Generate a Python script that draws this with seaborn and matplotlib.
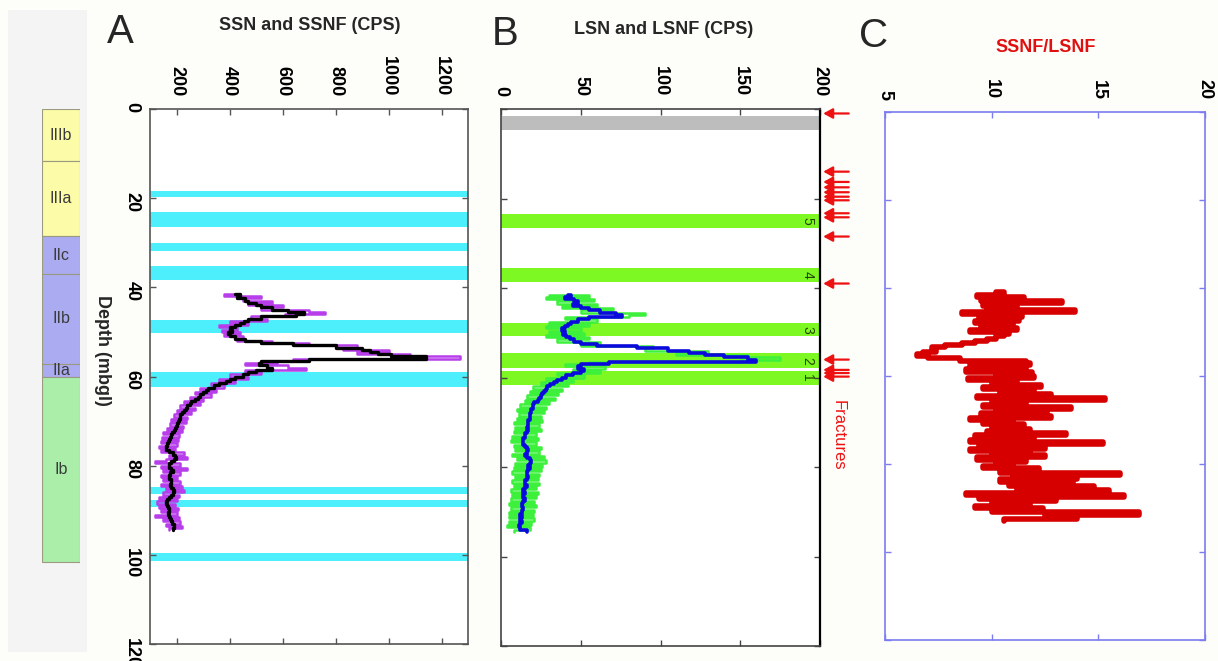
import numpy as np
import seaborn as sns
import matplotlib.pyplot as plt
from matplotlib.patches import Rectangle

# ---- data (depth in m below ground level) ----
log_top = 41.5      # first sample depth of the SSN / LSN logs
ratio_top = 41.0    # first sample depth of the ratio log
step = 0.5

ssn_raw = [440, 380, 520, 450, 560, 470, 600, 520, 700, 760,
           610, 480, 540, 400, 470, 360, 430, 370, 440, 380,
           450, 430, 560, 700, 880, 830, 1000, 880, 1080, 1270,
           640, 580, 460, 620, 690, 460, 520, 400, 470, 360,
           420, 330, 380, 290, 350, 270, 330, 250, 300, 230,
           290, 215, 270, 200, 255, 190, 240, 180, 235, 175,
           225, 165, 220, 150, 210, 145, 205, 140, 200, 135,
           195, 140, 230, 170, 240, 160, 120, 215, 140, 240,
           150, 215, 140, 200, 150, 215, 140, 220, 160, 230,
           150, 210, 135, 200, 125, 195, 135, 205, 140, 200,
           120, 210, 150, 215, 160, 220, 170]
ssnf = [420, 440, 430, 460, 470, 500, 520, 560, 620, 680,
        650, 520, 470, 455, 440, 420, 400, 410, 395, 400,
        420, 460, 520, 640, 800, 900, 930, 960, 1010, 1140,
        700, 520, 510, 540, 560, 500, 470, 450, 420, 400,
        385, 360, 340, 320, 310, 300, 290, 280, 268, 255,
        250, 240, 235, 228, 222, 215, 212, 208, 205, 200,
        198, 195, 190, 182, 178, 175, 172, 168, 165, 162,
        160, 170, 185, 195, 198, 190, 178, 172, 170, 178,
        185, 176, 170, 172, 178, 180, 176, 178, 185, 192,
        188, 178, 170, 165, 160, 163, 168, 172, 170, 168,
        170, 175, 178, 182, 190, 192, 188]
lsn_raw = [30, 55, 28, 58, 35, 60, 38, 70, 50, 90,
           80, 40, 60, 30, 55, 28, 50, 30, 52, 28,
           55, 35, 62, 50, 95, 90, 130, 110, 155, 175,
           150, 55, 40, 65, 45, 62, 35, 52, 28, 45,
           25, 42, 20, 38, 18, 36, 16, 34, 15, 30,
           12, 28, 10, 27, 11, 25, 10, 26, 8, 24,
           9, 25, 8, 22, 7, 23, 6, 22, 8, 25,
           9, 24, 7, 27, 10, 28, 9, 26, 8, 25,
           7, 24, 9, 23, 7, 24, 8, 22, 6, 23,
           7, 22, 6, 21, 5, 22, 6, 21, 5, 20,
           5, 21, 5, 19, 4, 18, 8]
lsnf = [42, 44, 40, 46, 48, 45, 50, 55, 62, 72,
        76, 55, 48, 44, 42, 40, 38, 40, 39, 41,
        43, 46, 50, 60, 85, 105, 118, 128, 140, 155,
        160, 68, 50, 48, 52, 50, 45, 41, 38, 35,
        33, 31, 29, 28, 27, 26, 25, 24, 23, 21,
        20, 20, 19, 19, 18, 18, 18, 17, 17, 17,
        16, 17, 16, 15, 15, 14, 14, 14, 15, 16,
        17, 16, 15, 16, 18, 19, 18, 17, 18, 17,
        16, 16, 17, 16, 15, 15, 16, 15, 14, 15,
        14, 14, 15, 14, 13, 13, 14, 13, 13, 12,
        13, 12, 13, 12, 11, 12, 16]
ssnf_lsnf = [10.2, 10.6, 9.3, 11.5, 9.5, 13.3, 9.6, 11.2, 9.8, 13.9,
             8.6, 11.4, 9.4, 11.3, 9.2, 11.0, 9.5, 11.2, 9.0, 10.8,
             10.6, 10.2, 9.8, 9.2, 8.6, 7.8, 7.2, 7.4, 6.8, 6.5,
             7.0, 8.5, 11.6, 11.8, 9.0, 11.6, 8.8, 11.9, 10.2, 12.0,
             8.9, 11.2, 10.0, 12.3, 9.6, 12.0, 10.4, 12.8, 9.3, 15.3,
             10.0, 11.6, 9.6, 13.7, 10.2, 12.6, 9.5, 12.8, 9.0, 11.0,
             9.6, 11.5, 10.0, 11.8, 9.8, 13.5, 9.2, 12.0, 9.0, 15.2,
             9.4, 12.5, 9.0, 11.8, 10.0, 12.5, 9.3, 11.6, 10.2, 11.0,
             9.6, 12.2, 10.4, 16.0, 11.0, 14.0, 10.4, 13.8, 10.8, 14.8,
             11.2, 15.5, 8.8, 16.2, 9.4, 13.0, 10.0, 11.8, 9.2, 12.4,
             10.0, 16.9, 12.5, 14.0, 10.6]

zone_names = ['IIIb', 'IIIa', 'IIc', 'IIb', 'IIa', 'Ib']
zone_top = [0.0, 11.7, 28.5, 37.0, 57.2, 60.1]
zone_bot = [11.7, 28.5, 37.0, 57.2, 60.1, 101.6]
zone_colors = ['#FBFBA8', '#FBFBA8', '#ABABF2', '#ABABF2', '#ABABF2', '#AAEEAA']

ssn_bands = [(18.4, 19.8), (23.2, 26.4), (30.0, 31.9), (35.2, 38.3), (47.4, 50.2),
             (59.0, 62.3), (84.8, 86.3), (87.7, 89.3), (99.6, 101.4)]
lsn_bands = [(23.5, 26.7), (35.6, 38.6), (47.8, 50.7), (54.5, 57.9), (58.5, 61.7)]
lsn_band_labels = ['5', '4', '3', '2', '1']
casing = (1.5, 4.7)
fractures = [1.0, 14.0, 16.3, 17.5, 18.6, 19.6, 20.4, 23.3, 24.2, 28.5,
             39.0, 56.0, 58.3, 59.0, 59.8]

depth_log = log_top + step * np.arange(len(ssnf))
depth_ratio = ratio_top + step * np.arange(len(ssnf_lsnf))

sns.set_style('ticks')
plt.rcParams['font.family'] = ['Liberation Sans', 'DejaVu Sans']

W, H = 1218, 661
fig = plt.figure(figsize=(W / 100, H / 100), dpi=100, facecolor='#FDFDF9')


def box(x0, y0, x1, y1):
    return [x0 / W, 1 - y1 / H, (x1 - x0) / W, (y1 - y0) / H]


# light panel behind the zonation column
fig.patches.append(Rectangle((8 / W, 1 - 652 / H), 79 / W, 642 / H,
                             transform=fig.transFigure, fc='#F4F4F4', ec='none', zorder=-5))

axZ = fig.add_axes(box(42, 109, 80, 644))
axA = fig.add_axes(box(150, 109, 468, 644))
axB = fig.add_axes(box(501, 109, 820, 646))
axC = fig.add_axes(box(885, 112, 1205, 640))
axZ.set_zorder(3)

# ---- zonation column ----
for name, t, b, c in zip(zone_names, zone_top, zone_bot, zone_colors):
    axZ.barh((t + b) / 2, 1, height=b - t, left=0, color=c, edgecolor='#9A9A80', lw=0.8)
    axZ.text(0.5, (t + b) / 2, name, ha='center', va='center', fontsize=11.5, color='#3A3A3A')
axZ.set_xlim(0, 1)
axZ.set_ylim(120, 0)
axZ.axis('off')


def style_depth_axis(ax, spine_col, show_depth_labels):
    ax.set_ylim(120, 0)
    ax.set_yticks(range(0, 121, 20))
    ax.xaxis.tick_top()
    ax.tick_params(axis='both', direction='in', length=4, width=1, colors=spine_col,
                   labelcolor='black', labelsize=13, pad=9)
    ax.tick_params(axis='x', top=True, bottom=True)
    ax.tick_params(axis='y', left=True, right=True, labelleft=show_depth_labels, pad=7)
    for lab in ax.get_xticklabels() + ax.get_yticklabels():
        lab.set_rotation(-90)
        lab.set_fontweight('bold')
    for sp in ax.spines.values():
        sp.set_visible(True)
        sp.set_color(spine_col)
        sp.set_linewidth(1.2)
    ax.set_xlabel('')
    ax.set_ylabel('')


# ---- A: short spaced neutron ----
for t, b in ssn_bands:
    axA.axhspan(t, b, color='#4CEFFB', lw=0, zorder=0)
sns.lineplot(x=ssn_raw, y=depth_log, orient='y', estimator=None, ax=axA,
             color='#B83DEB', lw=1.8, drawstyle='steps-post')
sns.lineplot(x=ssnf, y=depth_log, orient='y', estimator=None, ax=axA,
             color='black', lw=2.4, drawstyle='steps-post')
axA.set_xlim(100, 1300)
axA.set_xticks(range(200, 1201, 200))
style_depth_axis(axA, '#555555', True)

# ---- B: long spaced neutron ----
axB.axhspan(*casing, color='#BDBDBD', lw=0, zorder=0)
for (t, b), lab in zip(lsn_bands, lsn_band_labels):
    axB.axhspan(t, b, color='#7EF822', lw=0, zorder=0)
    axB.text(192, (t + b) / 2, lab, rotation=-90, ha='center', va='center',
             fontsize=10, color='#224400')
sns.lineplot(x=lsn_raw, y=depth_log, orient='y', estimator=None, ax=axB,
             color='#3CF03C', lw=1.8, drawstyle='steps-post')
sns.lineplot(x=lsnf, y=depth_log, orient='y', estimator=None, ax=axB,
             color='#0A0ADD', lw=2.6, drawstyle='steps-post')
axB.set_xlim(0, 200)
axB.set_xticks(range(0, 201, 50))
style_depth_axis(axB, '#444444', False)
axB.spines['right'].set_color('black')
axB.spines['right'].set_linewidth(1.6)

for d in fractures:
    axB.annotate('', xy=(1.01, d), xytext=(1.09, d), xycoords=axB.get_yaxis_transform(),
                 annotation_clip=False,
                 arrowprops=dict(arrowstyle='-|>,head_length=0.55,head_width=0.3',
                                 color='#EE1111', lw=1.6, shrinkA=0, shrinkB=0))

# ---- C: ratio ----
sns.lineplot(x=ssnf_lsnf, y=depth_ratio, orient='y', estimator=None, ax=axC,
             color='#D60000', lw=4.0, drawstyle='steps-post')
axC.set_xlim(5, 20)
axC.set_xticks([5, 10, 15, 20])
style_depth_axis(axC, '#7C7CF0', False)

# ---- titles and labels ----
fig.text(120 / W, 1 - 32 / H, 'A', fontsize=29, ha='center', va='center')
fig.text(505 / W, 1 - 34 / H, 'B', fontsize=29, ha='center', va='center')
fig.text(874 / W, 1 - 36 / H, 'C', fontsize=29, ha='center', va='center')
fig.text(310 / W, 1 - 26 / H, 'SSN and SSNF (CPS)', fontsize=13, fontweight='bold',
         ha='center', va='center')
fig.text(664 / W, 1 - 30 / H, 'LSN and LSNF (CPS)', fontsize=13, fontweight='bold',
         ha='center', va='center')
fig.text(1046 / W, 1 - 48 / H, 'SSNF/LSNF', fontsize=13, fontweight='bold',
         color='#E01010', ha='center', va='center')
fig.text(102 / W, 1 - 350 / H, 'Depth (mbgl)', fontsize=13, fontweight='bold',
         rotation=-90, ha='center', va='center')
fig.text(838 / W, 1 - 435 / H, 'Fractures', fontsize=12, color='#EE1111',
         rotation=-90, ha='center', va='center')

fig.savefig('out.png', dpi=100, facecolor=fig.get_facecolor())
plt.close()
